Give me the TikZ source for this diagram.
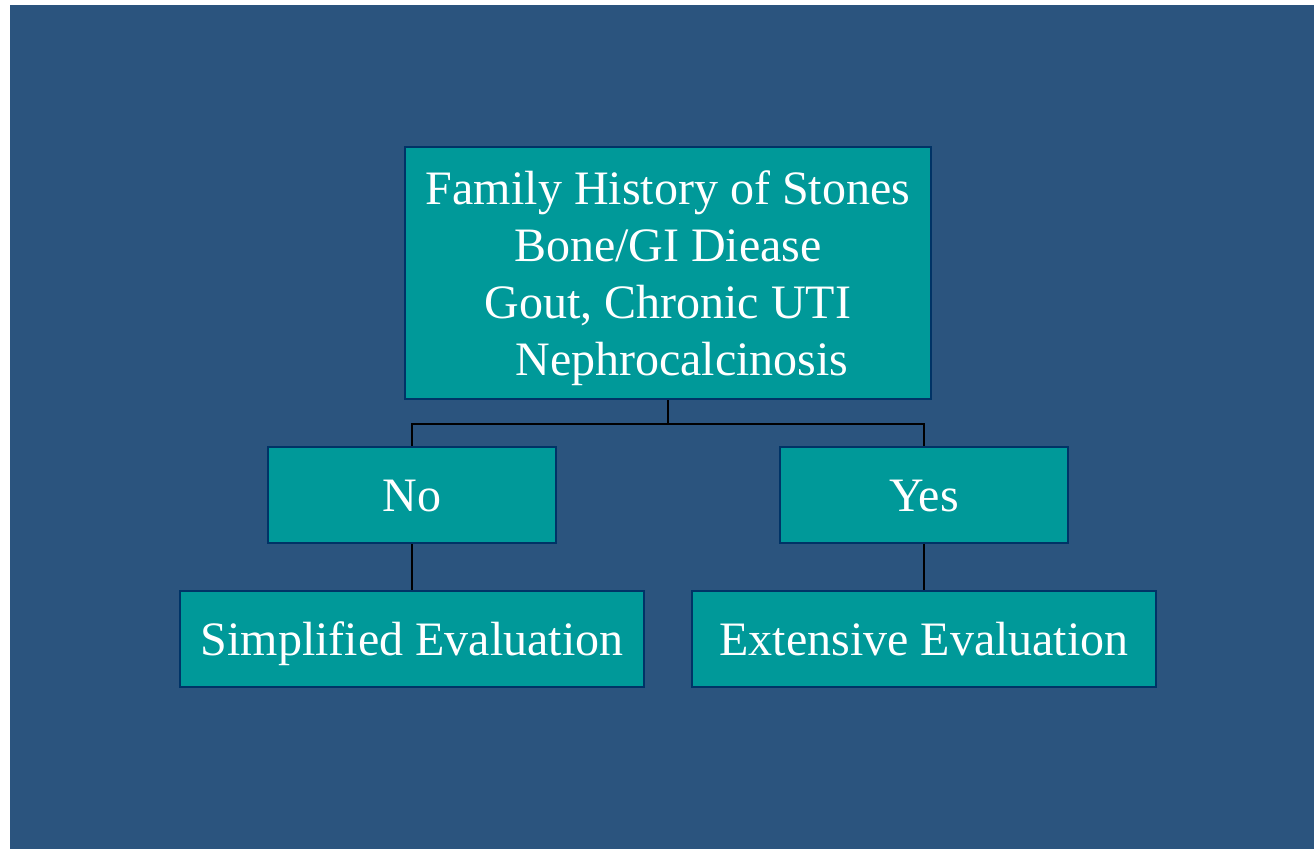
\documentclass[tikz,border=0pt]{standalone}
\usepackage{fontspec}
\setmainfont{Liberation Serif}
\usepackage{tikz}

\definecolor{slideblue}{RGB}{43,84,126}
\definecolor{boxteal}{RGB}{0,153,153}
\definecolor{boxedge}{RGB}{0,51,102}

\tikzset{
  evalbox/.style={draw=boxedge, line width=1.3pt, fill=boxteal, text=white,
    font=\fontsize{24}{28.5}\selectfont, inner sep=0pt},
  onerow/.style={text height=17pt, text depth=0pt},
  link/.style={line width=1.1pt, black}
}

\begin{document}
\begin{tikzpicture}[x=0.5pt,y=-0.5pt]
% Background
\fill[white] (0,0) rectangle (1314,849);
\fill[slideblue] (10,5) rectangle (1314,849);

% Question box
\node[evalbox, minimum width=263pt, minimum height=126pt, align=center] (history) at (668,273)
  {\rule{0pt}{22pt}Family History of Stones\\Bone/GI Diease\\Gout, Chronic UTI\hspace*{8pt}\\\hspace*{14pt}Nephrocalcinosis};

% Answers
\node[evalbox, onerow, minimum width=144pt, minimum height=48pt] (no) at (412,495) {No};
\node[evalbox, onerow, minimum width=144pt, minimum height=48pt] (yes) at (924,495) {Yes};

% Outcomes
\node[evalbox, onerow, minimum width=232pt, minimum height=48pt] (simple) at (412,639) {Simplified Evaluation};
\node[evalbox, onerow, minimum width=232pt, minimum height=48pt] (extensive) at (924,639) {Extensive Evaluation};

% Connectors
\draw[link] (history.south) -- ++(0,24) -| (no.north);
\draw[link] (history.south) -- ++(0,24) -| (yes.north);
\draw[link] (no.south) -- (simple.north);
\draw[link] (yes.south) -- (extensive.north);
\end{tikzpicture}
\end{document}
